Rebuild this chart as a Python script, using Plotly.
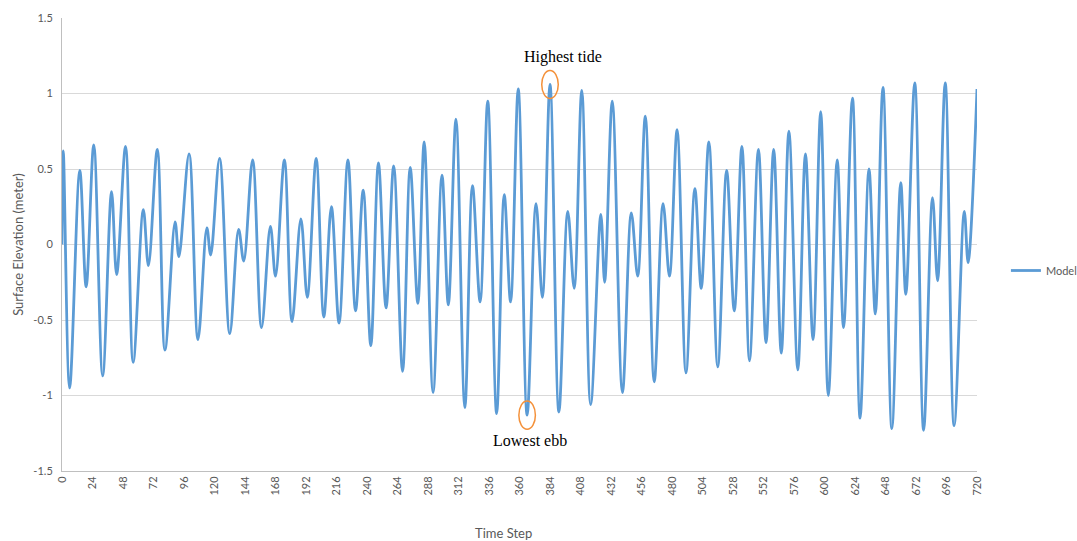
import plotly.graph_objects as go

# Hourly model output: successive high / low water turning points
tide_hours = [
    0, 1, 6, 14, 19, 25, 32, 39, 43, 50,
    56, 64, 68, 75, 81, 89, 92, 100, 107, 114,
    117, 124, 132, 139, 143, 150, 157, 164, 168, 175,
    181, 188, 193, 200, 206, 212, 218, 225, 231, 237,
    243, 249, 255, 261, 268, 274, 280, 285, 292, 299,
    304, 310, 317, 323, 329, 335, 342, 348, 353, 359,
    366, 373, 378, 384, 391, 398, 403, 409, 416, 424,
    427, 433, 441, 448, 453, 459, 466, 473, 478, 484,
    491, 498, 503, 509, 516, 523, 529, 535, 541, 548,
    554, 560, 566, 572, 579, 585, 591, 597, 603, 610,
    615, 622, 628, 635, 640, 646, 653, 660, 664, 671,
    678, 685, 689, 695, 702, 710, 713, 720,
]
tide_elev = [
    0.00, 0.62, -0.95, 0.49, -0.28, 0.66, -0.87, 0.35, -0.20, 0.65,
    -0.78, 0.23, -0.14, 0.63, -0.70, 0.15, -0.08, 0.60, -0.63, 0.11,
    -0.07, 0.57, -0.59, 0.10, -0.11, 0.56, -0.55, 0.12, -0.21, 0.56,
    -0.51, 0.17, -0.35, 0.57, -0.48, 0.25, -0.52, 0.56, -0.44, 0.36,
    -0.67, 0.54, -0.42, 0.52, -0.84, 0.51, -0.39, 0.68, -0.98, 0.46,
    -0.40, 0.83, -1.08, 0.39, -0.38, 0.95, -1.12, 0.33, -0.38, 1.03,
    -1.13, 0.27, -0.35, 1.06, -1.11, 0.22, -0.29, 1.02, -1.06, 0.20,
    -0.25, 0.95, -0.98, 0.21, -0.21, 0.85, -0.91, 0.27, -0.21, 0.76,
    -0.85, 0.37, -0.29, 0.68, -0.81, 0.49, -0.44, 0.65, -0.77, 0.63,
    -0.65, 0.63, -0.72, 0.75, -0.83, 0.60, -0.63, 0.88, -1.00, 0.56,
    -0.55, 0.97, -1.15, 0.50, -0.46, 1.04, -1.22, 0.41, -0.33, 1.07,
    -1.23, 0.31, -0.24, 1.07, -1.20, 0.22, -0.12, 1.03,
]

x_ticks = list(range(0, 721, 24))
y_ticks = [-1.5, -1, -0.5, 0, 0.5, 1, 1.5]
y_tick_text = ["-1.5", "-1", "-0.5", "0", "0.5", "1", "1.5"]

# Extremes marked on the chart: (label, hour, elevation)
highest = ("Highest tide", 384, 1.06)
lowest = ("Lowest ebb", 366, -1.13)

axis_font = dict(family="Liberation Sans Narrow, Lato, sans-serif", size=11, color="#595959")
title_font = dict(family=axis_font["family"], size=13, color="#595959")
grid_col = "#d9d9d9"
ring_col = "#f4913a"

fig = go.Figure()
fig.add_trace(go.Scatter(
    x=tide_hours, y=tide_elev, name="Model", mode="lines",
    line=dict(color="#5b9bd5", width=2.8, shape="spline", smoothing=1.0),
))

fig.update_layout(
    width=1077, height=541,
    margin=dict(l=62, r=100, t=18, b=70, autoexpand=False),
    paper_bgcolor="white", plot_bgcolor="white",
    showlegend=True,
    legend=dict(
        xref="container", yref="container",
        x=0.934, y=0.50, xanchor="left", yanchor="middle",
        font=axis_font, itemwidth=30, bgcolor="rgba(0,0,0,0)",
    ),
    xaxis=dict(
        range=[0, 720], tickvals=x_ticks, ticktext=[str(v) for v in x_ticks],
        tickangle=-90, tickfont=axis_font, showgrid=False, zeroline=False,
        showline=True, linecolor="#bfbfbf", linewidth=1, ticks="",
    ),
    yaxis=dict(
        range=[-1.5, 1.5], tickvals=y_ticks, ticktext=y_tick_text,
        tickfont=axis_font, showgrid=True, gridcolor=grid_col, gridwidth=1,
        zeroline=False, showline=True, linecolor="#bfbfbf", linewidth=1, ticks="",
        ticklabelstandoff=6,
        title=dict(text="Surface Elevation (meter)", font=title_font, standoff=6),
    ),
)

# x-axis caption, placed a little left of the plot centre
fig.add_annotation(xref="paper", yref="paper", x=0.483, y=-0.115, text="Time Step",
                   showarrow=False, font=title_font, yanchor="top")

# Rings around the two extremes and their captions
for label, hx, hy in (highest, lowest):
    fig.add_shape(type="circle", xref="x", yref="y",
                  x0=hx - 6.5, x1=hx + 6.5, y0=hy - 0.093, y1=hy + 0.093,
                  line=dict(color=ring_col, width=1.5))

fig.add_annotation(x=highest[1] + 10, y=highest[2] + 0.11, text=highest[0], showarrow=False,
                   font=dict(family="Liberation Serif, Times New Roman, serif", size=16, color="black"),
                   yanchor="bottom")
fig.add_annotation(x=lowest[1] + 2, y=lowest[2] - 0.10, text=lowest[0], showarrow=False,
                   font=dict(family="Liberation Serif, Times New Roman, serif", size=16, color="black"),
                   yanchor="top")

fig.write_html("out.html")
